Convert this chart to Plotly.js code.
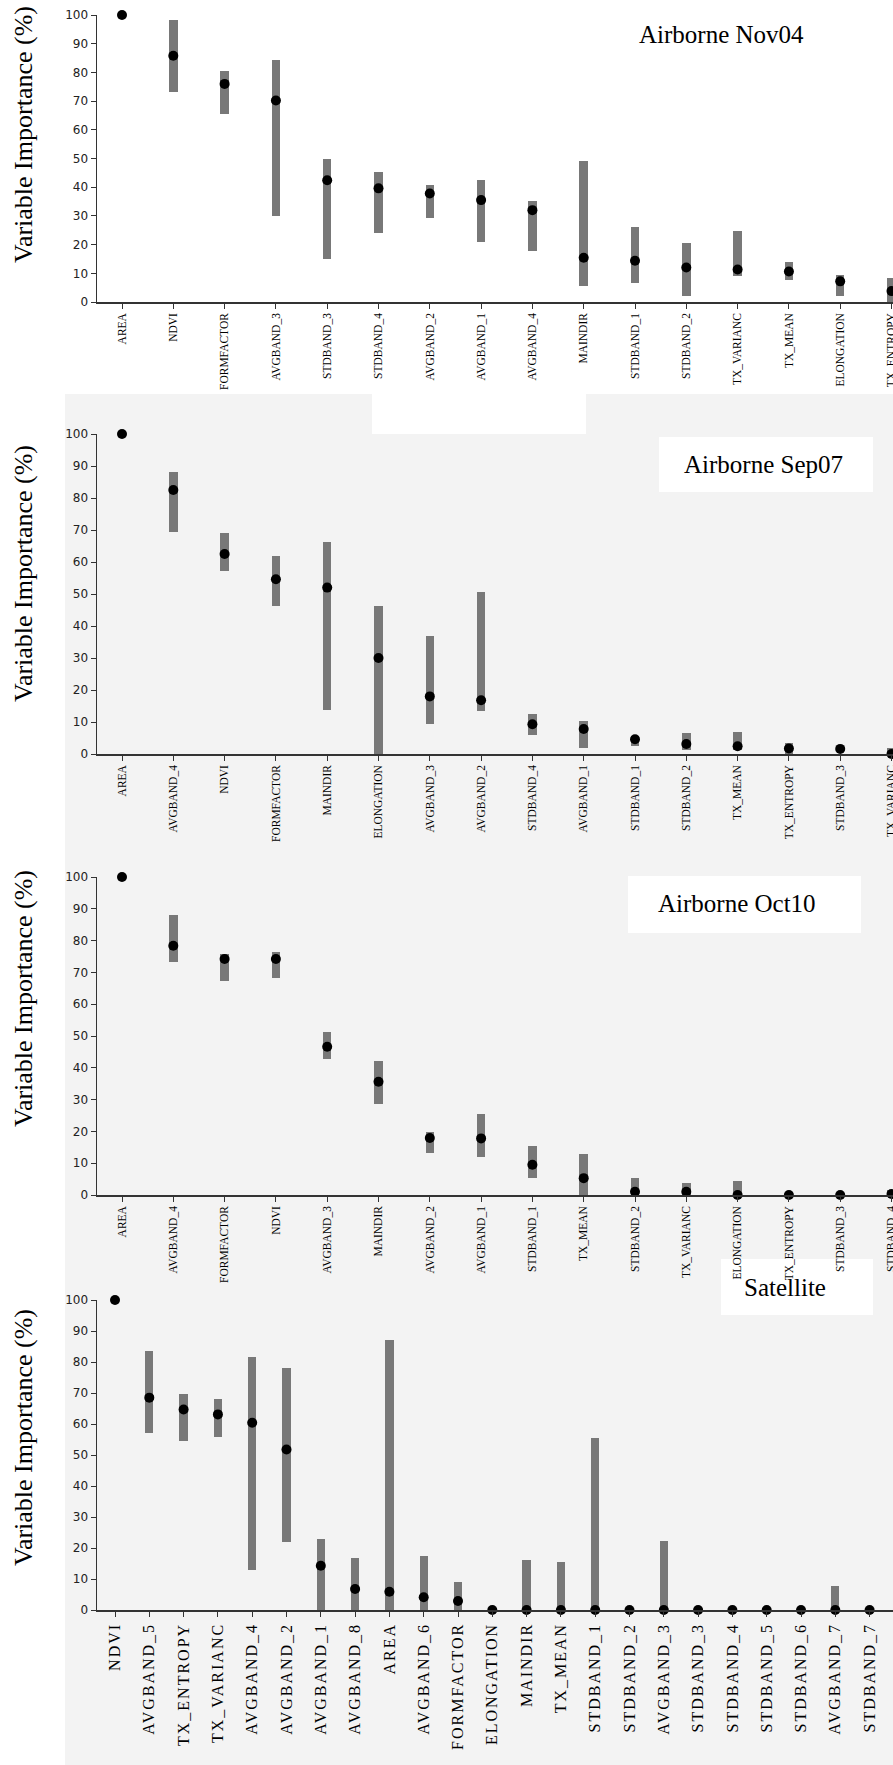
<!DOCTYPE html>
<html><head><meta charset="utf-8">
<script src="https://cdn.plot.ly/plotly-3.0.1.min.js"></script>
<style>
body{margin:0;background:#fff}
#chart{width:893px;height:1765px}
.x4tick text{letter-spacing:2px}
</style>
</head><body><div id="chart"></div>
<script>
// ---------- DATA ----------
const cats1 = ['AREA','NDVI','FORMFACTOR','AVGBAND_3','STDBAND_3','STDBAND_4','AVGBAND_2','AVGBAND_1','AVGBAND_4','MAINDIR','STDBAND_1','STDBAND_2','TX_VARIANC','TX_MEAN','ELONGATION','TX_ENTROPY'];
const imp1  = [100,85.8,76,70.2,42.4,39.6,37.8,35.5,32,15.4,14.4,12,11.3,10.6,7.2,3.8];
const lo1   = [100,73,65.4,29.8,15.1,24.2,29.2,20.8,17.9,5.7,6.6,2.2,9.1,7.5,2.2,0];
const hi1   = [100,98.2,80.4,84.2,49.9,45.3,40.8,42.5,35.2,49,26,20.4,24.8,13.8,9.4,8.2];

const cats2 = ['AREA','AVGBAND_4','NDVI','FORMFACTOR','MAINDIR','ELONGATION','AVGBAND_3','AVGBAND_2','STDBAND_4','AVGBAND_1','STDBAND_1','STDBAND_2','TX_MEAN','TX_ENTROPY','STDBAND_3','TX_VARIANC'];
const imp2  = [100,82.5,62.5,54.6,52,30,18,16.8,9.3,7.8,4.6,3.1,2.4,1.7,1.6,0];
const lo2   = [100,69.3,57.3,46.2,13.6,0,9.3,13.3,5.8,2,2.6,1.1,1.1,0,1,0];
const hi2   = [100,88.2,69,62,66.2,46.3,37,50.6,12.6,10.4,5.6,6.6,6.9,3.4,2.2,2];

const cats3 = ['AREA','AVGBAND_4','FORMFACTOR','NDVI','AVGBAND_3','MAINDIR','AVGBAND_2','AVGBAND_1','STDBAND_1','TX_MEAN','STDBAND_2','TX_VARIANC','ELONGATION','TX_ENTROPY','STDBAND_3','STDBAND_4'];
const imp3  = [100,78.4,74.2,74.2,46.6,35.6,17.9,17.8,9.5,5.3,1,1,0,0,0,0.3];
const lo3   = [100,73.2,67.4,68.2,42.9,28.7,13.2,12.1,5.3,0,0,0,0,0,0,0];
const hi3   = [100,88.2,75.8,76.5,51.4,42,19.8,25.5,15.3,12.8,5.5,3.7,4.5,0.8,0,1.5];

const cats4 = ['NDVI','AVGBAND_5','TX_ENTROPY','TX_VARIANC','AVGBAND_4','AVGBAND_2','AVGBAND_1','AVGBAND_8','AREA','AVGBAND_6','FORMFACTOR','ELONGATION','MAINDIR','TX_MEAN','STDBAND_1','STDBAND_2','AVGBAND_3','STDBAND_3','STDBAND_4','STDBAND_5','STDBAND_6','AVGBAND_7','STDBAND_7'];
const imp4  = [100,68.5,64.7,63.1,60.4,51.8,14.3,6.8,5.9,4.1,2.9,0,0,0,0,0,0,0,0,0,0,0,0];
const lo4   = [100,57.2,54.5,55.9,12.9,21.8,0,0,0,0,0,0,0,0,0,0,0,0,0,0,0,0,0];
const hi4   = [100,83.5,69.6,68.1,81.7,78,22.9,16.7,87.1,17.5,8.9,0,16.1,15.4,55.6,0,22.3,0,0,0,0,7.7,0];

const panelNames = ['Airborne Nov04','Airborne Sep07','Airborne Oct10','Satellite'];
const yTitle = 'Variable Importance (%)';

// ---------- LAYOUT GEOMETRY (pixels) ----------
const W = 893, H = 1765;
const panels = [
  {cats:cats1, imp:imp1, lo:lo1, hi:hi1, top:15,   bot:302,  first:122, step:51.3, bw:0.165, fs:11.5, titleY:135,
   lab:{x:721, y:34,   box:null}},
  {cats:cats2, imp:imp2, lo:lo2, hi:hi2, top:434,  bot:754,  first:122, step:51.3, bw:0.165, fs:11.5, titleY:574,
   lab:{x:763, y:464,  box:[659,873,437,492]}},
  {cats:cats3, imp:imp3, lo:lo3, hi:hi3, top:877,  bot:1195, first:122, step:51.3, bw:0.165, fs:11.5, titleY:999,
   lab:{x:737, y:903,  box:[628,861,876,933]}},
  {cats:cats4, imp:imp4, lo:lo4, hi:hi4, top:1300, bot:1610, first:115, step:34.3, bw:0.24,  fs:16,   titleY:1438,
   lab:{x:785, y:1287, box:[721,873,1259,1315]}}
];
const axX = 97;
const px = v => v / W, py = v => 1 - v / H;

const traces = [], annotations = [], shapes = [];
const layout = {
  width: W, height: H, margin: {l:0, r:0, t:0, b:0},
  paper_bgcolor: '#ffffff', plot_bgcolor: 'rgba(0,0,0,0)',
  showlegend: false, bargap: 0,
  font: {family: 'Liberation Serif, serif', color: '#111'}
};

// light grey background of the lower three panels, with its white patch
shapes.push({type:'rect', xref:'paper', yref:'paper', x0:px(65), x1:1, y0:0, y1:py(394),
  fillcolor:'#f3f3f3', line:{width:0}, layer:'below'});
shapes.push({type:'rect', xref:'paper', yref:'paper', x0:px(372), x1:px(586), y0:py(434), y1:py(394),
  fillcolor:'#ffffff', line:{width:0}, layer:'below'});

panels.forEach((p, i) => {
  const n = i + 1, xs = n === 1 ? '' : String(n);
  const xa = 'x' + xs, ya = 'y' + xs;
  const lo = p.lo, hi = p.hi;
  traces.push({
    type:'bar', x:p.cats, y:hi.map((h,k)=>h-lo[k]), base:lo,
    xaxis:xa, yaxis:ya, width:p.bw,
    marker:{color:'#787878', line:{width:0}}, hoverinfo:'skip'
  });
  traces.push({
    type:'scatter', mode:'markers', x:p.cats, y:p.imp, xaxis:xa, yaxis:ya,
    marker:{color:'#000', size:10, symbol:'circle'}, cliponaxis:false
  });
  const left = -(p.first - axX) / p.step, right = (W - p.first) / p.step;
  layout['xaxis' + xs] = {
    domain:[px(axX), 1], anchor:ya, type:'category', range:[left, right],
    categoryorder:'array', categoryarray:p.cats,
    showline:true, linecolor:'#333', linewidth:1.5, showgrid:false, zeroline:false,
    ticks:'outside', ticklen:5, tickcolor:'#333', tickwidth:1,
    tickangle:-90, tickfont:{family:'Liberation Serif, serif', size:p.fs, color:'#000'},
    fixedrange:true
  };
  layout['yaxis' + xs] = {
    domain:[py(p.bot), py(p.top)], anchor:xa, range:[0,100],
    tickmode:'array', tickvals:[0,10,20,30,40,50,60,70,80,90,100],
    showline:true, linecolor:'#333', linewidth:1.5, showgrid:false, zeroline:false,
    ticks:'outside', ticklen:5, tickcolor:'#333',
    tickfont:{family:'DejaVu Sans, sans-serif', size:12, color:'#222'},
    fixedrange:true
  };
  annotations.push({
    xref:'paper', yref:'paper', x:px(23), y:py(p.titleY), text:yTitle, textangle:-90,
    showarrow:false, xanchor:'center', yanchor:'middle',
    font:{family:'Liberation Serif, serif', size:26, color:'#000'}
  });
  if (p.lab.box) {
    const b = p.lab.box;
    shapes.push({type:'rect', xref:'paper', yref:'paper', x0:px(b[0]), x1:px(b[1]), y0:py(b[3]), y1:py(b[2]),
      fillcolor:'#ffffff', line:{width:0}, layer:'below'});
  }
  annotations.push({
    xref:'paper', yref:'paper', x:px(p.lab.x), y:py(p.lab.y), text:panelNames[i],
    showarrow:false, xanchor:'center', yanchor:'middle',
    font:{family:'Liberation Serif, serif', size:25, color:'#000'}
  });
});
layout.annotations = annotations;
layout.shapes = shapes;

Plotly.newPlot('chart', traces, layout, {displayModeBar:false, staticPlot:true});
</script></body></html>
